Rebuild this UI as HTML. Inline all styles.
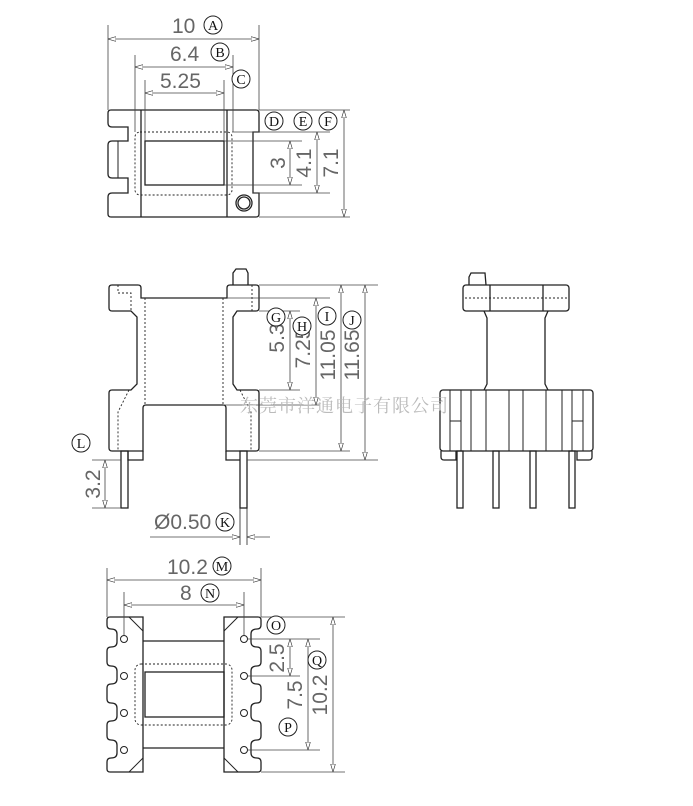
<!DOCTYPE html>
<html><head><meta charset="utf-8"><style>
html,body{margin:0;padding:0;background:#fff;}
svg{display:block;}
text{font-family:"Liberation Sans","Noto Sans CJK SC",sans-serif;fill:#444;}
.d{font-size:21px;fill:#666;}
.c{font-size:14px;fill:#111;text-anchor:middle;font-family:"Liberation Serif",serif;}
</style></head><body>
<svg width="693" height="806" viewBox="0 0 693 806" xmlns="http://www.w3.org/2000/svg">
<defs>
<marker id="a" viewBox="0 0 10 6" refX="10" refY="3" markerWidth="10" markerHeight="6" orient="auto-start-reverse"><path d="M0,0 L10,3 L0,6 z" fill="#fff" stroke="#333" stroke-width="0.8"/></marker>
</defs>
<g fill="none" stroke="#222" stroke-width="1.3">
<path d="M111,110 H256 Q259,110 259,113 V132 H253 V193 H259 V214 Q259,217 256,217 H111 Q108,217 108,214 V197 Q108,193 112,193 H128 V178 H112 Q108,178 108,174 V145 Q108,141 112,141 H128 V127 H112 Q108,127 108,123 V113 Q108,110 111,110 Z"/>
<line x1="141" y1="110" x2="141" y2="217"/><line x1="227" y1="110" x2="227" y2="217"/>
<line x1="118" y1="141" x2="118" y2="178" stroke-width="1"/>
<rect x="145" y="141" width="79" height="44"/>
<circle cx="244" cy="203" r="8"/><circle cx="244" cy="203" r="6"/>
<rect x="135" y="132" width="97" height="63" rx="5" stroke-dasharray="2,2" stroke-width="0.9"/>
<path d="M112,285 H138 Q141,285 141,288 V298 H227 V288 Q227,285 230,285 H256 Q259,285 259,288 V308 Q259,311 256,311 H237 L233,317 V384 L237,390 H256 Q259,390 259,393 V448 Q259,451 256,451 H226 V408 Q226,405 223,405 H146 Q143,405 143,408 V451 H112 Q109,451 109,448 V393 Q109,390 112,390 H131 L137,384 V317 L131,311 H112 Q109,311 109,308 V288 Q109,285 112,285 Z"/>
<path d="M233,285 V273 L236,269 H246 L248,273 V285"/>
<path d="M128,451 V460 H143 V451 M226,451 V460 H240"/>
<rect x="121" y="451" width="7" height="57"/>
<rect x="240" y="451" width="7" height="57"/>
<line x1="240" y1="508" x2="240" y2="545" stroke-width="0.8"/><line x1="247" y1="508" x2="247" y2="545" stroke-width="0.8"/>
<g stroke-dasharray="2,2" stroke-width="0.9"><line x1="145" y1="298" x2="145" y2="405"/><line x1="223" y1="298" x2="223" y2="405"/><path d="M118,285 V293 H131 V311"/><line x1="252" y1="285" x2="252" y2="311"/><path d="M129,390 L118,412 V451"/><path d="M240,390 L251,412 V451"/></g>
<rect x="463" y="285" width="106" height="26" rx="3"/>
<path d="M469,285 V277 L471,273 H485 L486,285"/>
<line x1="490" y1="285" x2="490" y2="311"/><line x1="543" y1="285" x2="543" y2="311"/>
<line x1="465" y1="298" x2="567" y2="298" stroke-dasharray="2,2" stroke-width="0.9"/>
<path d="M484,311 L487,318 V384 L484,390 M548,311 L545,318 V384 L548,390"/>
<rect x="440" y="390" width="153" height="61" rx="3"/>
<path d="M441,451 V457 Q441,460 444,460 H456 V451 M592,451 V457 Q592,460 589,460 H577 V451"/>
<g stroke-width="1"><line x1="450" y1="390" x2="450" y2="451"/><line x1="461" y1="390" x2="461" y2="451"/><line x1="471" y1="390" x2="471" y2="451"/><line x1="486" y1="390" x2="486" y2="451"/><line x1="509" y1="390" x2="509" y2="451"/><line x1="523" y1="390" x2="523" y2="451"/><line x1="546" y1="390" x2="546" y2="451"/><line x1="562" y1="390" x2="562" y2="451"/><line x1="572" y1="390" x2="572" y2="451"/><line x1="583" y1="390" x2="583" y2="451"/><line x1="450" y1="421" x2="461" y2="421"/><line x1="572" y1="421" x2="583" y2="421"/></g>
<rect x="457" y="451" width="6" height="57"/><rect x="493" y="451" width="6" height="57"/><rect x="530" y="451" width="6" height="57"/><rect x="569" y="451" width="6" height="57"/>
<path d="M110,617 H143 V772 H110 Q107,772 107,769 V762 Q107,758 111,758 Q117,758 117,753 V745 Q117,740 111,740 Q107,740 107,736 V725 Q107,721 111,721 Q117,721 117,716 V708 Q117,703 111,703 Q107,703 107,699 V688 Q107,684 111,684 Q117,684 117,679 V671 Q117,666 111,666 Q107,666 107,662 V651 Q107,647 111,647 Q117,647 117,642 V634 Q117,629 111,629 Q107,629 107,625 V620 Q107,617 110,617 Z"/>
<path d="M258,617 H224 V772 H258 Q261,772 261,769 V762 Q261,758 257,758 Q251,758 251,753 V745 Q251,740 257,740 Q261,740 261,736 V725 Q261,721 257,721 Q251,721 251,716 V708 Q251,703 257,703 Q261,703 261,699 V688 Q261,684 257,684 Q251,684 251,679 V671 Q251,666 257,666 Q261,666 261,662 V651 Q261,647 257,647 Q251,647 251,642 V634 Q251,629 257,629 Q261,629 261,625 V620 Q261,617 258,617 Z"/>
<path d="M129,617 L143,631 M129,772 L143,758 M238,617 L224,631 M238,772 L224,758" stroke-width="1"/>
<line x1="143" y1="641" x2="224" y2="641"/><line x1="143" y1="748" x2="224" y2="748"/>
<rect x="145" y="672" width="79" height="45"/>
<rect x="135" y="664" width="97" height="61" rx="6" stroke-dasharray="2,2" stroke-width="0.9"/>
<g stroke-width="1"><circle cx="124" cy="639" r="3.5"/><circle cx="124" cy="676" r="3.5"/><circle cx="124" cy="713" r="3.5"/><circle cx="124" cy="750" r="3.5"/><circle cx="244" cy="639" r="3.5"/><circle cx="244" cy="676" r="3.5"/><circle cx="244" cy="713" r="3.5"/><circle cx="244" cy="750" r="3.5"/></g>
</g>
<g stroke="#444" stroke-width="0.8" fill="none">
<line x1="108" y1="25" x2="108" y2="110"/><line x1="259" y1="25" x2="259" y2="110"/>
<line x1="135" y1="55" x2="135" y2="132"/><line x1="233" y1="55" x2="233" y2="132"/>
<line x1="145" y1="80" x2="145" y2="141"/><line x1="224" y1="80" x2="224" y2="141"/>
<line x1="108" y1="39" x2="259" y2="39" marker-start="url(#a)" marker-end="url(#a)"/>
<line x1="135" y1="67" x2="233" y2="67" marker-start="url(#a)" marker-end="url(#a)"/>
<line x1="145" y1="93" x2="224" y2="93" marker-start="url(#a)" marker-end="url(#a)"/>
<line x1="259" y1="110" x2="350" y2="110"/><line x1="232" y1="132" x2="330" y2="132"/><line x1="224" y1="141" x2="302" y2="141"/><line x1="224" y1="185" x2="302" y2="185"/><line x1="253" y1="193" x2="330" y2="193"/><line x1="259" y1="217" x2="350" y2="217"/>
<line x1="290" y1="141" x2="290" y2="185" marker-start="url(#a)" marker-end="url(#a)"/>
<line x1="317" y1="132" x2="317" y2="193" marker-start="url(#a)" marker-end="url(#a)"/>
<line x1="344" y1="110" x2="344" y2="217" marker-start="url(#a)" marker-end="url(#a)"/>
<line x1="259" y1="285" x2="378" y2="285"/><line x1="227" y1="298" x2="330" y2="298"/><line x1="259" y1="311" x2="300" y2="311"/><line x1="259" y1="390" x2="300" y2="390"/><line x1="223" y1="405" x2="320" y2="405"/><line x1="259" y1="451" x2="350" y2="451"/><line x1="247" y1="460" x2="378" y2="460"/>
<line x1="290" y1="311" x2="290" y2="390" marker-start="url(#a)" marker-end="url(#a)"/>
<line x1="316" y1="298" x2="316" y2="405" marker-start="url(#a)" marker-end="url(#a)"/>
<line x1="341" y1="285" x2="341" y2="451" marker-start="url(#a)" marker-end="url(#a)"/>
<line x1="365" y1="285" x2="365" y2="460" marker-start="url(#a)" marker-end="url(#a)"/>
<line x1="92" y1="460" x2="121" y2="460"/><line x1="92" y1="508" x2="121" y2="508"/>
<line x1="105" y1="460" x2="105" y2="508" marker-start="url(#a)" marker-end="url(#a)"/>
<line x1="150" y1="537" x2="240" y2="537" marker-end="url(#a)"/><line x1="270" y1="537" x2="247" y2="537" marker-end="url(#a)"/>
<line x1="107" y1="568" x2="107" y2="617"/><line x1="261" y1="568" x2="261" y2="617"/>
<line x1="124" y1="592" x2="124" y2="635"/><line x1="244" y1="592" x2="244" y2="635"/>
<line x1="107" y1="580" x2="261" y2="580" marker-start="url(#a)" marker-end="url(#a)"/>
<line x1="124" y1="605" x2="244" y2="605" marker-start="url(#a)" marker-end="url(#a)"/>
<line x1="261" y1="617" x2="345" y2="617"/><line x1="248" y1="639" x2="320" y2="639"/><line x1="248" y1="676" x2="300" y2="676"/><line x1="248" y1="750" x2="320" y2="750"/><line x1="261" y1="772" x2="345" y2="772"/>
<line x1="290" y1="639" x2="290" y2="676" marker-start="url(#a)" marker-end="url(#a)"/>
<line x1="308" y1="639" x2="308" y2="750" marker-start="url(#a)" marker-end="url(#a)"/>
<line x1="333" y1="617" x2="333" y2="772" marker-start="url(#a)" marker-end="url(#a)"/>
</g>
<text class="d" x="172" y="33">10</text><text class="d" x="170" y="61">6.4</text><text class="d" x="160" y="88">5.25</text>
<text class="d" transform="translate(285,163) rotate(-90)" text-anchor="middle">3</text>
<text class="d" transform="translate(311,163) rotate(-90)" text-anchor="middle">4.1</text>
<text class="d" transform="translate(338,163) rotate(-90)" text-anchor="middle">7.1</text>
<text class="d" transform="translate(284,338) rotate(-90)" text-anchor="middle">5.3</text>
<text class="d" transform="translate(310,348) rotate(-90)" text-anchor="middle">7.25</text>
<text class="d" transform="translate(335,355) rotate(-90)" text-anchor="middle">11.05</text>
<text class="d" transform="translate(359,355) rotate(-90)" text-anchor="middle">11.65</text>
<text class="d" transform="translate(100,484) rotate(-90)" text-anchor="middle">3.2</text>
<text class="d" x="154" y="529">Ø0.50</text>
<text class="d" x="167" y="574">10.2</text><text class="d" x="180" y="600">8</text>
<text class="d" transform="translate(284,658) rotate(-90)" text-anchor="middle">2.5</text>
<text class="d" transform="translate(302,695) rotate(-90)" text-anchor="middle">7.5</text>
<text class="d" transform="translate(327,695) rotate(-90)" text-anchor="middle">10.2</text>
<text x="240" y="412" style="font-size:18px;fill:#bbb;font-family:'Noto Serif CJK SC','Noto Sans CJK SC',sans-serif;letter-spacing:1px">东莞市洋通电子有限公司</text>
<g stroke="#222" stroke-width="1" fill="#fff">
<circle cx="213" cy="25" r="9"/><circle cx="220" cy="52" r="9"/><circle cx="241" cy="79" r="9"/>
<circle cx="274" cy="121" r="9"/><circle cx="303" cy="121" r="9"/><circle cx="328" cy="121" r="9"/>
<circle cx="276" cy="317" r="9"/><circle cx="302" cy="326" r="9"/><circle cx="327" cy="316" r="9"/><circle cx="352" cy="320" r="9"/>
<circle cx="81" cy="443" r="9"/><circle cx="225" cy="522" r="9"/>
<circle cx="222" cy="566" r="9"/><circle cx="210" cy="593" r="9"/><circle cx="276" cy="625" r="9"/><circle cx="288" cy="727" r="9"/><circle cx="317" cy="660" r="9"/>
</g>
<text class="c" x="213" y="30">A</text><text class="c" x="220" y="57">B</text><text class="c" x="241" y="84">C</text>
<text class="c" x="274" y="126">D</text><text class="c" x="303" y="126">E</text><text class="c" x="328" y="126">F</text>
<text class="c" x="276" y="322">G</text><text class="c" x="302" y="331">H</text><text class="c" x="327" y="321">I</text><text class="c" x="352" y="325">J</text>
<text class="c" x="81" y="448">L</text><text class="c" x="225" y="527">K</text>
<text class="c" x="222" y="571">M</text><text class="c" x="210" y="598">N</text><text class="c" x="276" y="630">O</text><text class="c" x="288" y="732">P</text><text class="c" x="317" y="665">Q</text>
</svg>
</body></html>
